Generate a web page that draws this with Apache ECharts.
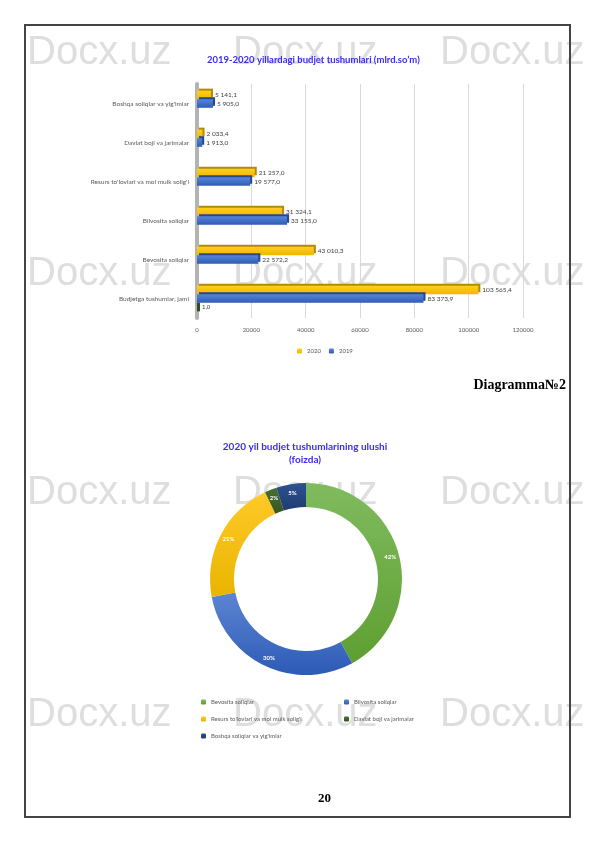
<!DOCTYPE html>
<html style="height: 100%">
<head>
  <meta charset="utf-8">
</head>
<body style="height: 100%; margin: 0; background: #fff">
  <div id="container" style="width: 595px; height: 842px"></div>
  <script type="text/javascript" src="https://cdn.jsdelivr.net/npm/echarts@6/dist/echarts.min.js"></script>
  <script type="text/javascript">
    // bar chart data (bottom row first)
    var categories = ['Budjetga tushumlar, jami', 'Bevosita soliqlar', 'Bilvosita soliqlar',
      "Resurs to'lovlari va mol mulk solig'i", 'Davlat boji va jarimalar', "Boshqa soliqlar va yig'imlar"];
    var values2020 = [103565.4, 43010.3, 31324.1, 21257.0, 2033.4, 5141.1];
    var values2019 = [83373.9, 22572.2, 33155.0, 19577.0, 1913.0, 5905.0];
    var valuesExtra = [1.0, null, null, null, null, null];

    // donut data (percent)
    var shareNames = ['Bevosita soliqlar', 'Bilvosita soliqlar', "Resurs to'lovlari va mol mulk solig'i",
      'Davlat boji va jarimalar', "Boshqa soliqlar va yig'imlar"];
    var shareValues = [42, 30, 21, 2, 5];

    function fmt(v) {
      var s = v.toFixed(1).split('.');
      return s[0].replace(/\B(?=(\d{3})+(?!\d))/g, ' ') + ',' + s[1];
    }
    function grad(a, b) {
      return new echarts.graphic.LinearGradient(0, 0, 0, 1, [{offset: 0, color: a}, {offset: 1, color: b}]);
    }

    var dom = document.getElementById("container");
    var myChart = echarts.init(dom);
    var titleColor = '#3a2cf2';
    var sliceColors = [grad('#80bb5f', '#5e9f31'), grad('#5c86d3', '#2d5ab5'), grad('#ffc928', '#e9b500'),
      grad('#476f30', '#36561f'), grad('#2d5191', '#1f3c70')];

    var watermarks = [];
    [37, 258, 477, 699].forEach(function (y) {
      [27, 233, 440].forEach(function (x) {
        watermarks.push({
          type: 'text', left: x, top: y - 4, z: -10, silent: true,
          style: {text: 'Docx.uz', fontSize: 40, fontFamily: 'Liberation Sans', fill: '#dedede'}
        });
      });
    });

    var option = {
      animation: false,
      textStyle: {fontFamily: 'Lato'},
      graphic: watermarks.concat([
        {type: 'rect', shape: {x: 25, y: 25, width: 545, height: 792},
          style: {fill: 'none', stroke: '#444', lineWidth: 2}, z: 100},
        {type: 'text', left: 207, top: 55,
          style: {text: '2019-2020 yillardagi budjet tushumlari (mlrd.so\u2019m)', fontSize: 9.5, fontWeight: 'bold',
            fontFamily: 'Lato', fill: titleColor}},
        {type: 'text', right: 29, top: 378,
          style: {text: 'Diagramma\u21162', fontSize: 14, fontWeight: 'bold', fontFamily: 'Liberation Serif', fill: '#000'}},
        {type: 'text', x: 305, y: 440,
          style: {text: '2020 yil budjet tushumlarining ulushi\n(foizda)', textAlign: 'center', fontSize: 10,
            fontWeight: 'bold', lineHeight: 13, fontFamily: 'Lato', fill: titleColor}},
        {type: 'text', left: 318, top: 792,
          style: {text: '20', fontSize: 13, fontWeight: 'bold', fontFamily: 'Liberation Serif', fill: '#000'}}
      ]),
      grid: {left: 197, right: 72, top: 84, height: 234},
      xAxis: {
        type: 'value', min: 0, max: 120000, interval: 20000,
        axisLine: {show: false}, axisTick: {show: false},
        axisLabel: {fontSize: 6, color: '#595959', margin: 9, formatter: function (v) { return String(v); }},
        splitLine: {lineStyle: {color: '#d9d9d9'}}
      },
      yAxis: {
        type: 'category', data: categories,
        axisTick: {show: false},
        axisLine: {lineStyle: {color: '#b3b3b3', width: 4}},
        axisLabel: {fontSize: 6.5, color: '#595959', margin: 8}
      },
      legend: [
        {data: ['2020', '2019'], left: 292, top: 343, itemWidth: 5, itemHeight: 5, itemGap: 8,
          textStyle: {fontSize: 6, color: '#595959'}},
        {data: [shareNames[0], shareNames[2], shareNames[4]], orient: 'vertical', left: 196, top: 694,
          itemWidth: 5, itemHeight: 5, itemGap: 11, textStyle: {fontSize: 6, color: '#595959'}},
        {data: [shareNames[1], shareNames[3]], orient: 'vertical', left: 339, top: 694,
          itemWidth: 5, itemHeight: 5, itemGap: 11, textStyle: {fontSize: 6, color: '#595959'}}
      ],
      series: [
        {
          name: '2020', type: 'bar', data: values2020, barGap: '0%', barCategoryGap: '34%',
          itemStyle: {color: grad('#ffd01a', '#f2b500'), shadowColor: '#b08a08', shadowOffsetX: 2, shadowOffsetY: -2},
          label: {show: true, position: 'right', distance: 4, fontSize: 6.5, color: '#404040',
            formatter: function (p) { return fmt(p.value); }}
        },
        {
          name: '2019', type: 'bar', data: values2019, barGap: '0%', barCategoryGap: '34%',
          itemStyle: {color: grad('#5585da', '#2f5cb5'), shadowColor: '#27478a', shadowOffsetX: 2, shadowOffsetY: -2},
          label: {show: true, position: 'right', distance: 4, fontSize: 6.5, color: '#404040',
            formatter: function (p) { return fmt(p.value); }}
        },
        {
          name: '', type: 'bar', data: valuesExtra, barGap: '0%', barCategoryGap: '34%', barMinHeight: 3,
          itemStyle: {color: '#2f4f1f'},
          label: {show: true, position: 'right', distance: 2, fontSize: 6, color: '#404040',
            formatter: function (p) { return fmt(p.value); }}
        },
        {
          type: 'pie', center: [306, 579], radius: [72, 96], startAngle: 90, clockwise: true,
          data: shareNames.map(function (n, i) {
            return {name: n, value: shareValues[i], itemStyle: {color: sliceColors[i]}};
          }),
          label: {show: true, position: 'inside', formatter: '{c}%', fontSize: 6, fontWeight: 'bold', color: '#fff'},
          labelLine: {show: false}
        }
      ]
    };
    myChart.setOption(option);
  </script>
</body>
</html>
